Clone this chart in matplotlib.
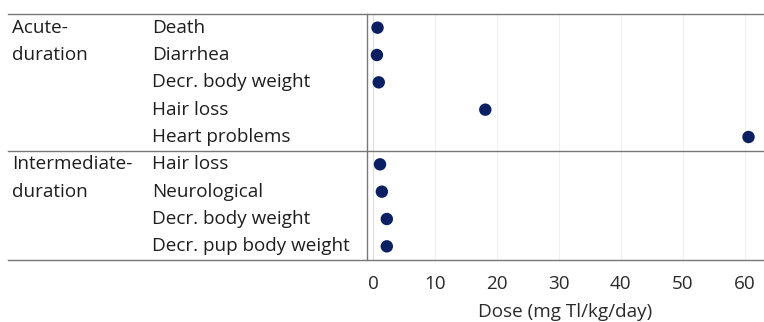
import matplotlib
matplotlib.use("Agg")
import matplotlib.pyplot as plt
from matplotlib.transforms import blended_transform_factory
from matplotlib.lines import Line2D

groups = [["Acute-", "duration"], ["Intermediate-", "duration"]]
group_sizes = [5, 4]
categories = ["Death", "Diarrhea", "Decr. body weight", "Hair loss", "Heart problems",
              "Hair loss", "Neurological", "Decr. body weight", "Decr. pup body weight"]
doses = [0.7, 0.6, 0.9, 18.1, 60.6, 1.1, 1.4, 2.2, 2.2]
xticks = [0, 10, 20, 30, 40, 50, 60]
xlabel = "Dose (mg Tl/kg/day)"

plt.rcParams['font.family'] = ['Open Sans', 'DejaVu Sans']
FS = 13.6
TC = '#1e1e1e'

W, H = 764, 322
fig = plt.figure(figsize=(W/100, H/100), dpi=100)
ax = fig.add_axes([367/W, 1 - 260/H, 1 - 367/W, (260 - 14)/H])

n = len(categories)
ys = [i + 0.5 for i in range(n)]
ax.set_ylim(n, 0)
ax.set_xlim(-1, 63.1)

for t in xticks:
    ax.axvline(t, color='#f0f0f0' if t else '#dddddd', lw=0.8, zorder=0)

ax.scatter(doses, ys, s=80, color='#0b1f63', zorder=3, edgecolors='none')

for s in ['top', 'right', 'bottom']:
    ax.spines[s].set_visible(False)
ax.spines['left'].set_color('#777777')
ax.spines['left'].set_linewidth(1.0)

ax.set_yticks([])
ax.set_xticks(xticks)
ax.tick_params(axis='x', length=0, pad=11, labelsize=FS, labelcolor='#2a2a2a')
ax.set_xlabel(xlabel, fontsize=FS, color='#2a2a2a', labelpad=7)

tr = blended_transform_factory(fig.transFigure, ax.transData)
bounds = [0]
for g in group_sizes:
    bounds.append(bounds[-1] + g)
for b in bounds:
    fig.add_artist(Line2D([8/W, 1], [b, b], transform=tr, color='#777777', lw=1.0))

for gi, lines in enumerate(groups):
    for li, line in enumerate(lines):
        ax.text(12/W, bounds[gi] + 0.5 + li, line, transform=tr, fontsize=FS, color=TC,
                va='center', ha='left', clip_on=False)

for y, c in zip(ys, categories):
    ax.text(152/W, y, c, transform=tr, fontsize=FS, color=TC,
            va='center', ha='left', clip_on=False)

fig.savefig("out.png", dpi=100)
